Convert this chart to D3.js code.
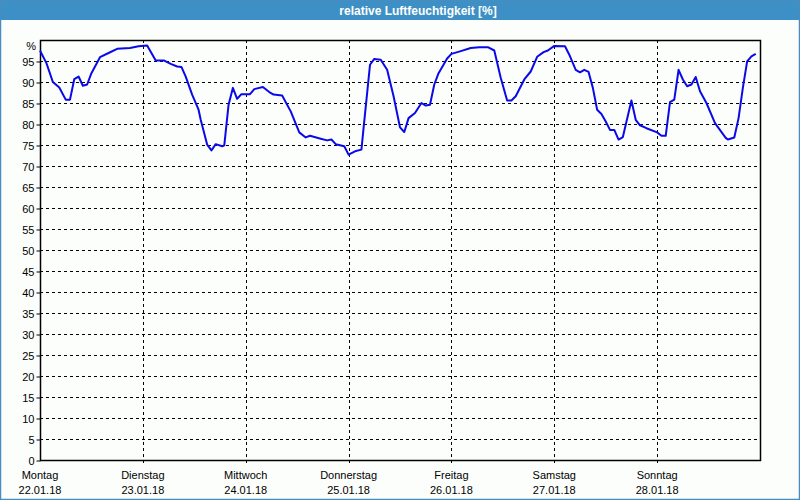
<!DOCTYPE html>
<html>
<head>
<meta charset="utf-8">
<script src="https://cdn.jsdelivr.net/npm/d3@7"></script>
<style>
  html, body { margin: 0; padding: 0; background: #fcfefc; }
  svg { display: block; font-family: "Liberation Sans", Arial, sans-serif; }
</style>
</head>
<body>
<svg id="chart" width="800" height="500"></svg>
<script>
// hours since Montag 22.01.18 00:00
var hours = [0, 1.5, 3, 4.5, 6, 7, 8, 9, 10, 11, 12, 14, 16, 18, 21, 23, 25, 27, 29, 30.5,
             32, 33, 34, 35.5, 37, 37.5, 39, 40, 41, 42.5, 43, 44, 45, 46, 47, 49, 50, 52, 53.5, 54.5,
             56.5, 58.5, 60.5, 62, 63, 65.5, 67, 68, 69, 71, 72, 73.5, 75, 75.5, 77, 78, 79.5, 81, 82.5, 84,
             85, 86, 87.5, 89, 90, 91, 92, 93, 95, 96, 98, 100.5, 102.5, 104.5, 106, 107.5, 109, 110, 111, 113,
             114.5, 116, 117.5, 118.5, 120, 122.5, 123.5, 125, 126, 127, 128, 129, 130, 131, 132, 133, 134, 135, 136, 138,
             139, 140, 141.5, 144, 145, 146, 147, 148, 149, 150, 151, 152, 153, 154, 155.5, 157.5, 160, 160.5, 162, 163,
             164, 165, 166, 167];
var humidity = [97.5, 94.5, 90.0, 88.7, 85.8, 85.8, 90.7, 91.3, 89.1, 89.4, 92.1, 95.9, 96.9, 97.9, 98.1, 98.5, 98.7, 95.1, 95.1, 94.3,
                93.7, 93.6, 91.3, 87.0, 83.4, 81.0, 75.1, 73.7, 75.2, 74.7, 74.9, 84.6, 88.6, 86.0, 87.1, 87.1, 88.3, 88.8, 87.6, 87.0,
                86.8, 83.0, 78.0, 76.8, 77.2, 76.5, 76.1, 76.3, 75.2, 74.7, 72.7, 73.5, 73.9, 79.0, 94.1, 95.5, 95.3, 92.9, 86.6, 79.2,
                78.1, 81.4, 82.6, 85.0, 84.4, 84.6, 89.4, 92.1, 95.6, 96.7, 97.3, 98.1, 98.3, 98.3, 97.5, 91.0, 85.6, 85.6, 86.6, 90.6,
                92.5, 96.0, 97.1, 97.5, 98.6, 98.5, 96.5, 92.9, 92.3, 92.9, 92.4, 88.6, 83.4, 82.4, 80.6, 78.6, 78.6, 76.3, 76.9, 85.6,
                81.0, 79.7, 79.0, 78.0, 77.2, 77.2, 85.2, 85.8, 92.9, 90.6, 89.0, 89.4, 91.2, 87.8, 85.0, 80.2, 76.7, 76.3, 76.8, 81.4,
                88.6, 94.9, 96.1, 96.7];

var dayNames = ["Montag", "Dienstag", "Mittwoch", "Donnerstag", "Freitag", "Samstag", "Sonntag"];
var dayDates = ["22.01.18", "23.01.18", "24.01.18", "25.01.18", "26.01.18", "27.01.18", "28.01.18"];
var yTickValues = [0, 5, 10, 15, 20, 25, 30, 35, 40, 45, 50, 55, 60, 65, 70, 75, 80, 85, 90, 95];
var title = "relative Luftfeuchtigkeit [%]";

var svg = d3.select("#chart");
var W = 800, H = 500;
var pLeft = 40, pRight = 760, pTop = 40, pBottom = 460;

// window frame and title bar
svg.append("rect").attr("x", 0).attr("y", 0).attr("width", W).attr("height", H).attr("fill", "#fcfefc");
svg.append("rect").attr("x", 0).attr("y", 0).attr("width", W).attr("height", 20).attr("fill", "#3d90c5");
svg.append("rect").attr("x", 0.5).attr("y", 0.5).attr("width", W - 1).attr("height", H - 1)
   .attr("fill", "none").attr("stroke", "#4a8cbf").attr("stroke-width", 1.5);
svg.append("text").attr("x", 418).attr("y", 14.5).attr("text-anchor", "middle")
   .attr("fill", "#ffffff").attr("font-size", "12px").attr("font-weight", "bold").text(title);

var x = d3.scaleLinear().domain([0, 168]).range([pLeft, pRight]);
var y = d3.scaleLinear().domain([0, 100]).range([pBottom, pTop]);

// horizontal grid
svg.append("g").selectAll("line").data(yTickValues.filter(function(d) { return d > 0; }))
   .enter().append("line")
   .attr("x1", pLeft).attr("x2", pRight)
   .attr("y1", function(d) { return Math.round(y(d)) + 0.5; })
   .attr("y2", function(d) { return Math.round(y(d)) + 0.5; })
   .attr("stroke", "#000").attr("stroke-width", 1).attr("stroke-dasharray", "3,3");

// vertical grid at day boundaries
var dayHours = d3.range(1, 7).map(function(i) { return i * 24; });
svg.append("g").selectAll("line").data(dayHours)
   .enter().append("line")
   .attr("x1", function(d) { return Math.round(x(d)) + 0.5; })
   .attr("x2", function(d) { return Math.round(x(d)) + 0.5; })
   .attr("y1", pTop).attr("y2", pBottom + 5)
   .attr("stroke", "#000").attr("stroke-width", 1).attr("stroke-dasharray", "3,3");

// y axis labels and ticks
var yAxis = d3.axisLeft(y).tickValues(yTickValues).tickSize(4).tickPadding(2);
var ya = svg.append("g").attr("transform", "translate(" + (pLeft + 0.5) + ",0.5)").call(yAxis);
ya.select(".domain").remove();
ya.selectAll("text").attr("font-size", "11px").attr("fill", "#000")
  .attr("font-family", "Liberation Sans, Arial, sans-serif");
ya.selectAll("line").attr("stroke", "#000");
svg.append("text").attr("x", 36).attr("y", 50).attr("text-anchor", "end")
   .attr("font-size", "11px").attr("fill", "#000").text("%");

// day labels
var days = d3.range(0, 7);
var lab = svg.append("g").selectAll("g").data(days).enter().append("g");
lab.append("text").attr("x", function(d) { return x(d * 24); }).attr("y", 479)
   .attr("text-anchor", "middle").attr("font-size", "11px").attr("fill", "#000")
   .text(function(d) { return dayNames[d]; });
lab.append("text").attr("x", function(d) { return x(d * 24); }).attr("y", 494)
   .attr("text-anchor", "middle").attr("font-size", "11px").attr("fill", "#000")
   .text(function(d) { return dayDates[d]; });

// plot frame
svg.append("rect").attr("x", pLeft + 0.5).attr("y", pTop + 0.5)
   .attr("width", pRight - pLeft).attr("height", pBottom - pTop)
   .attr("fill", "none").attr("stroke", "#000").attr("stroke-width", 1.5);

// humidity line
var line = d3.line()
    .x(function(d, i) { return x(hours[i]); })
    .y(function(d) { return y(d); });
svg.append("path").datum(humidity)
   .attr("d", line)
   .attr("fill", "none").attr("stroke", "#0a0ae8").attr("stroke-width", 2)
   .attr("stroke-linejoin", "round");
</script>
</body>
</html>
